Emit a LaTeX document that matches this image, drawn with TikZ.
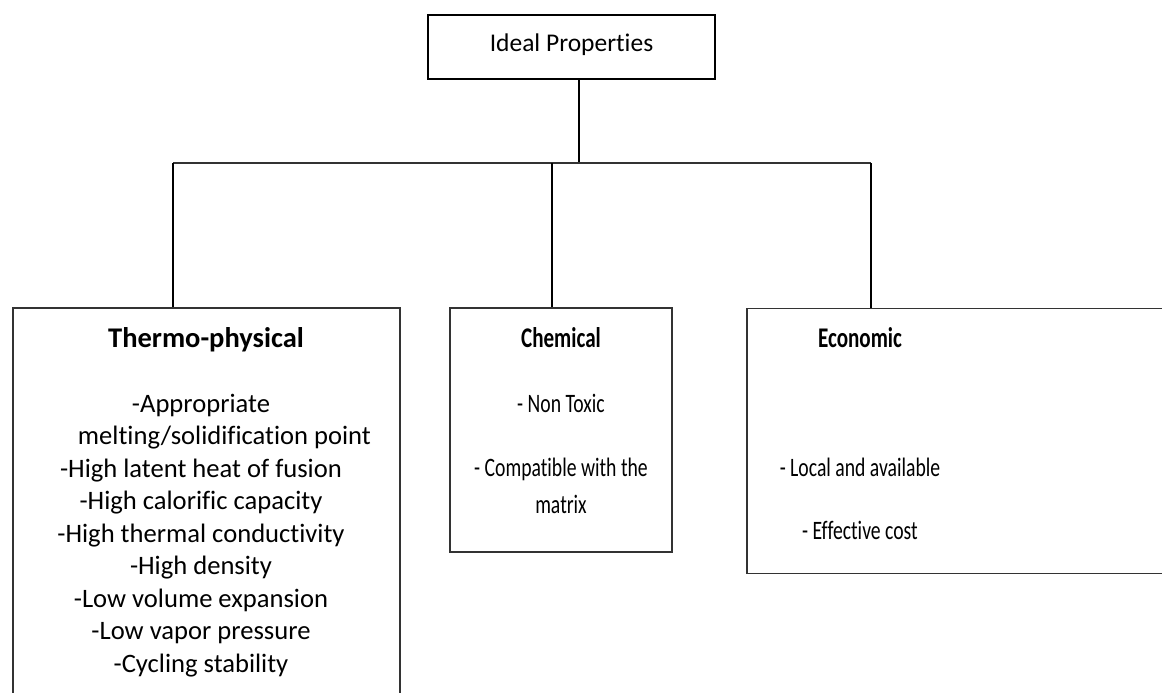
\documentclass[tikz,border=0pt]{standalone}
\usepackage{fontspec}
\setmainfont{Carlito}[Ligatures=NoCommon]
\newfontfamily\narrowfont[FakeStretch=0.74,Ligatures=NoCommon]{Carlito}
\usepackage{tikz}

\begin{document}
\begin{tikzpicture}[x=1pt,y=-1pt,
    box/.style={draw=black!80,line width=1.1pt,inner sep=0pt},
    title/.style={font=\fontsize{28.5}{34}\selectfont\bfseries,anchor=base,inner sep=0pt},
    item/.style={font=\fontsize{26.6}{32.5}\selectfont,anchor=base,inner sep=0pt},
    narrowtitle/.style={font=\fontsize{28.5}{34}\selectfont\narrowfont\bfseries,anchor=base,inner sep=0pt},
    narrowitem/.style={font=\fontsize{26.6}{32.5}\selectfont\narrowfont,anchor=base,inner sep=0pt}]
      \path[use as bounding box,clip] (0,0) rectangle (1162,693);

      % Top box
      \node [draw,line width=1.8pt,minimum width=287pt,minimum height=64pt,inner sep=0pt] (ideal) at (571.5,47) {};
      \node [font=\fontsize{25.5}{30}\selectfont,anchor=base,inner sep=0pt] (idealtext) at (571.5,52) {Ideal Properties};

      % Boxes
      \node [box,minimum width=387pt,minimum height=412pt] (thermo) at (206.5,514) {};
      \node [box,minimum width=222pt,minimum height=244pt] (chem) at (561,430) {};
      \node [box,minimum width=453pt,minimum height=265pt] (econ) at (973.5,441) {};

      % Thermo-physical
      \node [title] (thermotitle) at (206,347) {Thermo-physical};
      \foreach \txt [count=\i from 0] in {-Appropriate,\hspace*{47pt}melting/solidification point,
          -High latent heat of fusion,-High calorific capacity,-High thermal conductivity,
          -High density,-Low volume expansion,-Low vapor pressure,-Cycling stability}
        \node [item] (tp\i) at (201,{412+32.5*\i}) {\txt};

      % Chemical
      \node [narrowtitle] (chemtitle) at (561,347) {Chemical};
      \node [narrowitem] (chem1) at (561,412) {- Non Toxic};
      \node [narrowitem] (chem2) at (561,476) {- Compatible with the};
      \node [narrowitem] (chem3) at (561,513) {matrix};

      % Economic
      \node [narrowtitle] (econtitle) at (860,347) {Economic};
      \node [narrowitem] (econ1) at (860,476) {- Local and available};
      \node [narrowitem] (econ2) at (860,539) {- Effective cost};

      % Edges
      \coordinate (hub) at (579,163);
      \coordinate (tj) at (173,163);
      \coordinate (cj) at (552,163);
      \coordinate (ej) at (871,163);
      \draw [line width=1.2pt] (ideal.south -| hub) -- (hub);
      \draw [line width=1.4pt,black!80] (tj) -- (ej);
      \draw [line width=1.2pt] (tj) -- (tj |- thermo.north);
      \draw [line width=1.2pt] (cj) -- (cj |- chem.north);
      \draw [line width=1.2pt] (ej) -- (ej |- econ.north);
\end{tikzpicture}
\end{document}
